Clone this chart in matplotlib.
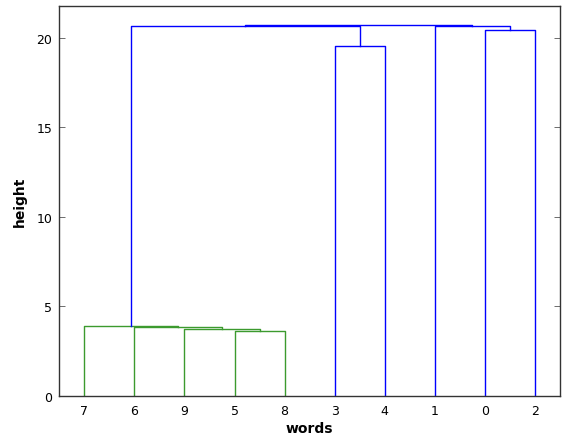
import matplotlib
matplotlib.use("Agg")
import matplotlib.pyplot as plt

# leaf labels (0..9) and linkage rows: left child, right child, merge height
leaf_names = ["0", "1", "2", "3", "4", "5", "6", "7", "8", "9"]
left_child = [5, 9, 6, 7, 3, 0, 13, 1, 16]
right_child = [8, 10, 11, 12, 4, 2, 14, 15, 17]
heights = [3.64, 3.75, 3.86, 3.88, 19.57, 20.47, 20.64, 20.68, 20.75]

n_leaves = len(leaf_names)
root = n_leaves + len(heights) - 1
threshold = 0.7 * max(heights)

# walk the tree left to right to get leaf order
order = []


def walk(node):
    if node < n_leaves:
        order.append(node)
        return
    k = node - n_leaves
    walk(left_child[k])
    walk(right_child[k])


walk(root)

xpos = {}
ypos = {}
for i, leaf in enumerate(order):
    xpos[leaf] = 5 + 10 * i
    ypos[leaf] = 0.0

fig = plt.figure(figsize=(5.65, 4.35), dpi=100)
ax = fig.add_axes([0.105, 0.088, 0.886, 0.896])

for k in range(len(heights)):
    node = n_leaves + k
    a, b = left_child[k], right_child[k]
    h = heights[k]
    xpos[node] = (xpos[a] + xpos[b]) / 2
    ypos[node] = h
    # below the cut: cluster colour, above: blue
    color = "#3c9a2e" if h < threshold else "#0000ff"
    ax.plot([xpos[a], xpos[a], xpos[b], xpos[b]],
            [ypos[a], h, h, ypos[b]], color=color, lw=1.0)

ax.set_xlim(0, 10 * n_leaves)
ax.set_ylim(0, max(heights) * 1.05)
ax.set_xticks([xpos[l] for l in order])
ax.set_xticklabels([leaf_names[l] for l in order], fontsize=9)
ax.set_yticks([0, 5, 10, 15, 20])
ax.tick_params(axis="y", direction="in", left=True, right=True, length=4,
               width=0.6, labelsize=9, pad=5, color="#555555")
ax.tick_params(axis="x", length=0, pad=6)
for s in ax.spines.values():
    s.set_color("#333333")
    s.set_linewidth(1.0)

ax.set_xlabel("words", fontsize=10, fontweight="bold", labelpad=3)
ax.set_ylabel("height", fontsize=10, fontweight="bold", labelpad=7)

fig.savefig("out.png", dpi=100)
